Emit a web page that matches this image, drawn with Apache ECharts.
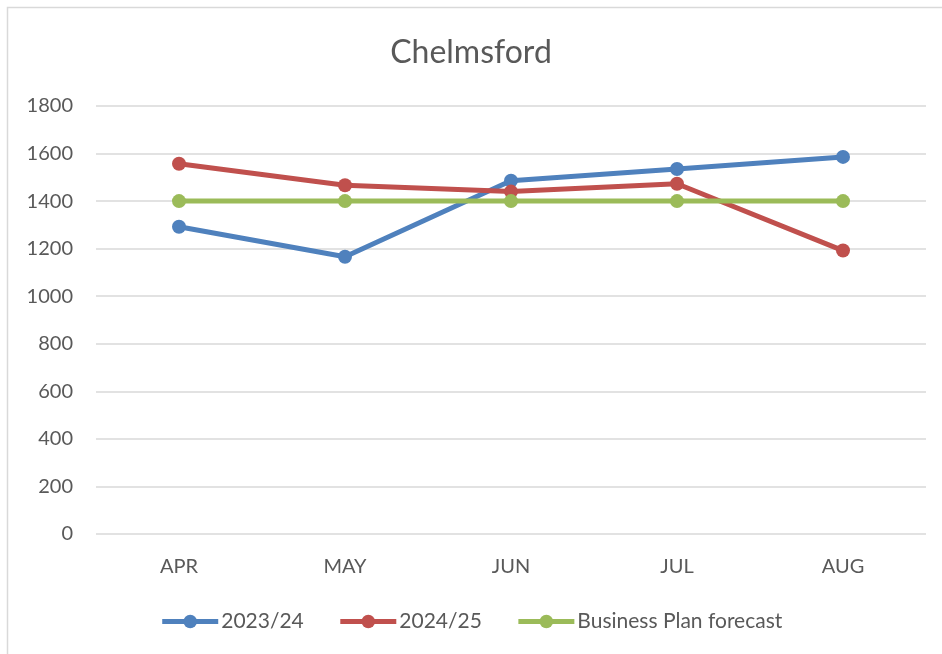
<!DOCTYPE html>
<html>
<head>
<meta charset="utf-8">
<script src="https://cdn.jsdelivr.net/npm/echarts@6/dist/echarts.min.js"></script>
<style>
  html, body { margin: 0; padding: 0; background: #fff; }
  #chart { width: 942px; height: 654px; }
</style>
</head>
<body>
<div id="chart"></div>
<script>
// months along the x axis
const months = ["APR", "MAY", "JUN", "JUL", "AUG"];
// values
const fy2324 = [1292, 1166, 1486, 1535, 1586];
const fy2425 = [1557, 1467, 1440, 1473, 1192];
const planForecast = [1400, 1400, 1400, 1400, 1400];

const font = "Lato, 'Open Sans', sans-serif";
const myChart = echarts.init(document.getElementById("chart"));

function lineSeries(name, data, color) {
  return {
    name: name,
    type: "line",
    data: data,
    symbol: "circle",
    symbolSize: 14,
    lineStyle: { color: color, width: 5 },
    itemStyle: { color: color },
    animation: false
  };
}

const option = {
  backgroundColor: "#fff",
  title: {
    text: "Chelmsford",
    left: "center",
    top: 32,
    textStyle: { fontFamily: font, fontSize: 32, fontWeight: "normal", color: "#595959" }
  },
  legend: {
    bottom: 17,
    left: "center",
    itemWidth: 56,
    itemHeight: 17,
    itemGap: 34,
    lineStyle: { width: 5 },
    textStyle: { fontFamily: font, fontSize: 21, color: "#595959", padding: [0, 0, 0, -2] },
    data: ["2023/24", "2024/25", "Business Plan forecast"]
  },
  grid: { left: 96, right: 16, top: 106, bottom: 120 },
  xAxis: {
    type: "category",
    data: months,
    axisLine: { show: false },
    axisTick: { show: false },
    axisLabel: { margin: 23, fontFamily: font, fontSize: 20, color: "#595959" }
  },
  yAxis: {
    type: "value",
    min: 0,
    max: 1800,
    interval: 200,
    axisLine: { show: false },
    axisTick: { show: false },
    axisLabel: { margin: 23, fontFamily: font, fontSize: 20, color: "#595959", formatter: v => String(v) },
    splitLine: { lineStyle: { color: "#d9d9d9", width: 1.5 } }
  },
  graphic: [
    {
      type: "rect",
      shape: { x: 7.5, y: 7.5, width: 960, height: 680 },
      style: { fill: "none", stroke: "#d9d9d9", lineWidth: 1.5 },
      silent: true
    }
  ],
  series: [
    lineSeries("2023/24", fy2324, "#4f81bd"),
    lineSeries("2024/25", fy2425, "#c0504d"),
    lineSeries("Business Plan forecast", planForecast, "#9bbb59")
  ]
};

myChart.setOption(option, true);
</script>
</body>
</html>
